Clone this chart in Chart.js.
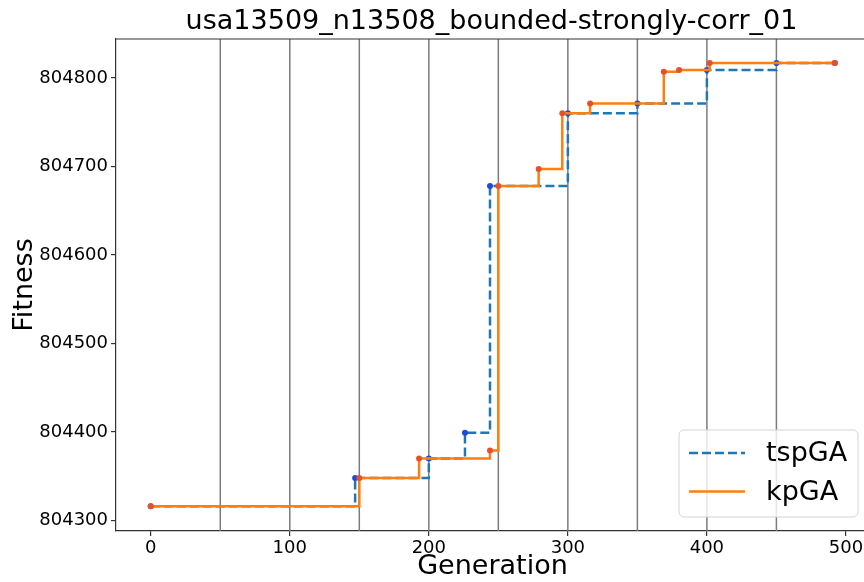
<!DOCTYPE html>
<html>
<head>
<meta charset="utf-8">
<script src="https://cdn.jsdelivr.net/npm/chart.js@4"></script>
<style>
  html, body { margin: 0; padding: 0; background: #fff; }
  #wrap { width: 864px; height: 582px; overflow: hidden; }
</style>
</head>
<body>
<div id="wrap"><canvas id="grafico" width="880" height="582"></canvas></div>
<script>
const titulo = "usa13509_n13508_bounded-strongly-corr_01";

// tspGA
const tspGens = [0, 147, 200, 226, 244, 300, 350, 400, 450, 492];
const tspFitness = [804316, 804348, 804370, 804399, 804678, 804760, 804771, 804809, 804817, 804817];

// kpGA
const kpGens = [0, 150, 193, 244, 250, 279, 296, 316, 369, 380, 402, 492];
const kpFitness = [804316, 804348, 804370, 804379, 804678, 804697, 804760, 804771, 804807, 804809, 804817, 804817];

// linhas verticais a cada 50 geracoes
const epocas = [50, 100, 150, 200, 250, 300, 350, 400, 450];

const xTicks = [0, 100, 200, 300, 400, 500];
const yTicks = [804300, 804400, 804500, 804600, 804700, 804800];

const fonte = "'DejaVu Sans', sans-serif";

function pontos(xs, ys) {
  return xs.map((x, i) => ({ x: x, y: ys[i] }));
}

const linhasEpoca = {
  id: 'linhasEpoca',
  beforeDatasetsDraw(chart) {
    const { ctx, chartArea } = chart;
    const sx = chart.scales.x;
    ctx.save();
    ctx.strokeStyle = '#7c7c7c';
    ctx.lineWidth = 1.5;
    epocas.forEach(g => {
      const px = sx.getPixelForValue(g);
      ctx.beginPath();
      ctx.moveTo(px, chartArea.top);
      ctx.lineTo(px, chartArea.bottom);
      ctx.stroke();
    });
    ctx.restore();
  }
};

const moldura = {
  id: 'moldura',
  afterDraw(chart) {
    const { ctx, chartArea } = chart;
    ctx.save();
    // titulo
    ctx.fillStyle = '#000';
    ctx.font = '27px ' + fonte;
    ctx.textAlign = 'center';
    ctx.textBaseline = 'alphabetic';
    ctx.fillText(titulo, (chartArea.left + chartArea.right) / 2 - 1, 29);
    // eixo de cima e da direita
    ctx.strokeStyle = '#333';
    ctx.lineWidth = 1.2;
    ctx.beginPath();
    ctx.moveTo(chartArea.left, chartArea.top);
    ctx.lineTo(chartArea.right, chartArea.top);
    ctx.lineTo(chartArea.right, chartArea.bottom);
    ctx.stroke();

    // legenda
    const w = 179, h = 87;
    const lx = chartArea.right - 11 - w;
    const ly = chartArea.bottom - 14 - h;
    ctx.beginPath();
    ctx.roundRect(lx, ly, w, h, 5);
    ctx.fillStyle = 'rgba(255,255,255,0.8)';
    ctx.fill();
    ctx.strokeStyle = '#d4d4d4';
    ctx.lineWidth = 1;
    ctx.stroke();
    chart.data.datasets.forEach((ds, i) => {
      const yy = ly + 23 + i * 38.5;
      ctx.beginPath();
      ctx.setLineDash(ds.borderDash || []);
      ctx.strokeStyle = ds.borderColor;
      ctx.lineWidth = ds.borderWidth;
      ctx.moveTo(lx + 10, yy);
      ctx.lineTo(lx + 66, yy);
      ctx.stroke();
      ctx.setLineDash([]);
      ctx.fillStyle = '#000';
      ctx.font = '27px ' + fonte;
      ctx.textAlign = 'left';
      ctx.textBaseline = 'middle';
      ctx.fillText(ds.label, lx + 87, yy + 1);
    });
    ctx.restore();
  }
};

const ctx = document.getElementById('grafico').getContext('2d');
new Chart(ctx, {
  type: 'line',
  data: {
    datasets: [
      {
        label: 'tspGA',
        order: 1,
        data: pontos(tspGens, tspFitness),
        borderColor: '#1f77b4',
        borderWidth: 2.5,
        borderDash: [9, 4],
        stepped: true,
        fill: false,
        pointRadius: 3,
        pointBorderWidth: 0,
        pointBackgroundColor: '#1f4bd6'
      },
      {
        label: 'kpGA',
        order: 0,
        data: pontos(kpGens, kpFitness),
        borderColor: '#ff7f0e',
        borderWidth: 2.5,
        stepped: true,
        fill: false,
        pointRadius: 3,
        pointBorderWidth: 0,
        pointBackgroundColor: '#e8502a'
      }
    ]
  },
  options: {
    responsive: false,
    animation: false,
    layout: { padding: { top: 39, right: 11, left: 0, bottom: 0 } },
    plugins: {
      legend: { display: false },
      tooltip: { enabled: false }
    },
    scales: {
      x: {
        type: 'linear',
        min: -25,
        max: 516.6,
        afterFit: s => { s.height = 51; },
        afterBuildTicks: s => { s.ticks = xTicks.map(v => ({ value: v })); },
        ticks: {
          color: '#000',
          font: { family: fonte, size: 18 },
          padding: 2,
          maxRotation: 0,
          callback: v => String(v)
        },
        grid: { drawOnChartArea: false, tickLength: 5, color: '#333', lineWidth: 1.2 },
        border: { color: '#333', width: 1.2 },
        title: {
          display: true,
          text: 'Generation',
          color: '#000',
          font: { family: fonte, size: 27, lineHeight: 1.1 },
          padding: { top: 0, bottom: 0 }
        }
      },
      y: {
        type: 'linear',
        min: 804288,
        max: 804844,
        afterFit: s => { s.width = 116; },
        afterBuildTicks: s => { s.ticks = yTicks.map(v => ({ value: v })); },
        ticks: {
          color: '#000',
          font: { family: fonte, size: 18 },
          padding: 3,
          callback: v => String(v)
        },
        grid: { drawOnChartArea: false, tickLength: 5, color: '#333', lineWidth: 1.2 },
        border: { color: '#333', width: 1.2 },
        title: {
          display: true,
          text: 'Fitness',
          color: '#000',
          font: { family: fonte, size: 27, lineHeight: 1.1 },
          padding: { top: 10, bottom: 0 }
        }
      }
    }
  },
  plugins: [linhasEpoca, moldura]
});
</script>
</body>
</html>
